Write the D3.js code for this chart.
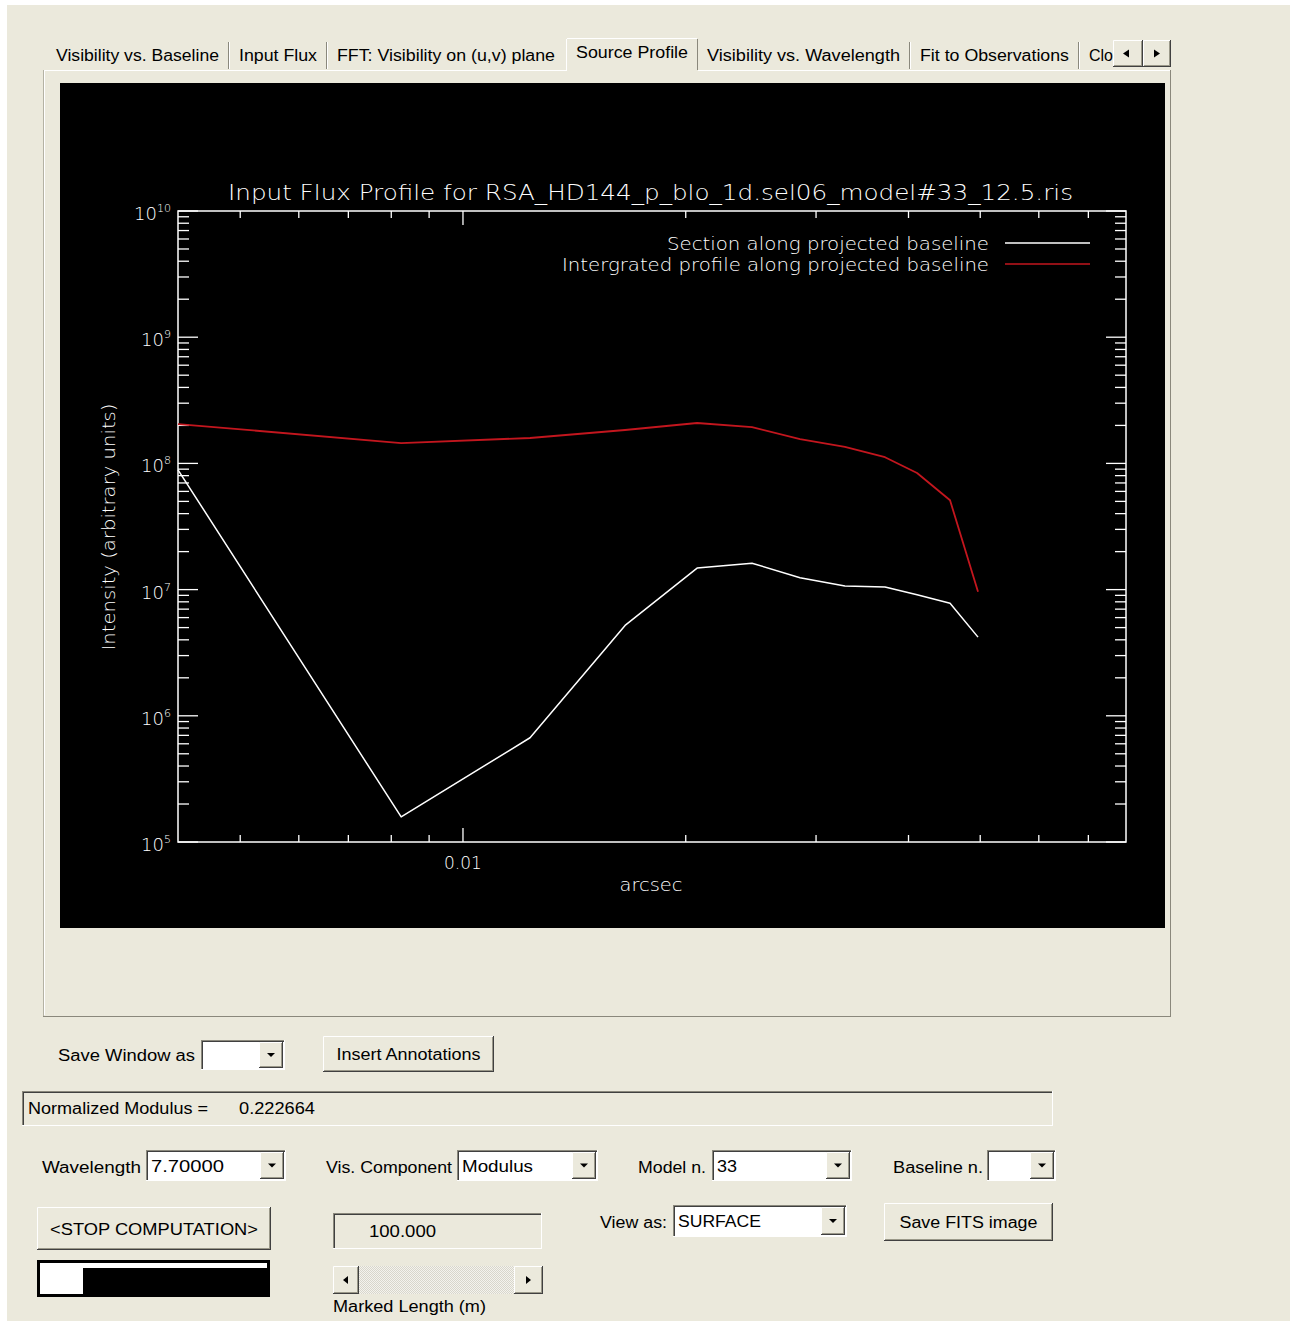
<!DOCTYPE html>
<html>
<head>
<meta charset="utf-8">
<script src="https://cdn.jsdelivr.net/npm/d3@7"></script>
<style>
  body { margin: 0; background: #ffffff; }
  svg { display: block; }
</style>
</head>
<body>
<svg id="app" width="1291" height="1322"></svg>
<script>
// Radial distance along the projected baseline (arcsec)
const arcsec = [0.00412, 0.00825, 0.01232, 0.01656, 0.02072, 0.02458, 0.02854, 0.03282, 0.03718, 0.04108, 0.04552, 0.04966];
// Section of the model image along the projected baseline
const sectionProfile = [8.9e7, 1.58e5, 6.7e5, 5.2e6, 1.48e7, 1.62e7, 1.24e7, 1.07e7, 1.05e7, 9.1e6, 7.8e6, 4.2e6];
// Profile integrated perpendicular to the projected baseline
const integratedProfile = [2.05e8, 1.45e8, 1.59e8, 1.84e8, 2.09e8, 1.94e8, 1.56e8, 1.35e8, 1.12e8, 8.4e7, 5.1e7, 9.6e6];

const xDomain = [0.00412, 0.0787];
const yDomain = [1e5, 1e10];
const yTickExponents = [10, 9, 8, 7, 6, 5];
const xTickLabels = ["0.01"];
const legendLabels = ["Section along projected baseline", "Intergrated profile along projected baseline"];
const chartTitle = "Input Flux Profile for RSA_HD144_p_blo_1d.sel06_model#33_12.5.ris";
const xAxisTitle = "arcsec";
const yAxisTitle = "Intensity (arbitrary units)";

const tabLabels = ["Visibility vs. Baseline", "Input Flux", "FFT: Visibility on (u,v) plane", "Source Profile",
                   "Visibility vs. Wavelength", "Fit to Observations", "Clo"];

const svg = d3.select("#app");
const UI_FONT = "'Liberation Sans', Arial, sans-serif";
const PLOT_FONT = "'DejaVu Sans', sans-serif";
const BG = "#ebe9dc";

// ---------- window background ----------
svg.append("rect").attr("x", 7).attr("y", 5).attr("width", 1283).attr("height", 1316).attr("fill", BG);

// ---------- small widget helpers ----------
function hline(g, x1, x2, y, c) { g.append("line").attr("x1", x1).attr("x2", x2).attr("y1", y).attr("y2", y).attr("stroke", c).attr("stroke-width", 1); }
function vline(g, x, y1, y2, c) { g.append("line").attr("x1", x).attr("x2", x).attr("y1", y1).attr("y2", y2).attr("stroke", c).attr("stroke-width", 1); }

function raised(g, x, y, w, h, fill) {
  g.append("rect").attr("x", x).attr("y", y).attr("width", w).attr("height", h).attr("fill", fill || BG);
  hline(g, x + 0.5, x + w - 0.5, y + 0.5, "#ffffff");
  vline(g, x + 0.5, y + 0.5, y + h - 0.5, "#ffffff");
  hline(g, x, x + w, y + h - 0.5, "#404040");
  vline(g, x + w - 0.5, y, y + h, "#404040");
  hline(g, x + 1, x + w - 1, y + h - 1.5, "#9a9889");
  vline(g, x + w - 1.5, y + 1, y + h - 1, "#9a9889");
}
function sunken(g, x, y, w, h, fill) {
  g.append("rect").attr("x", x).attr("y", y).attr("width", w).attr("height", h).attr("fill", fill || BG);
  hline(g, x, x + w, y + 0.5, "#8a887c");
  vline(g, x + 0.5, y, y + h, "#8a887c");
  hline(g, x + 1, x + w - 1, y + 1.5, "#404040");
  vline(g, x + 1.5, y + 1, y + h - 1, "#404040");
  hline(g, x, x + w, y + h - 0.5, "#ffffff");
  vline(g, x + w - 0.5, y, y + h, "#ffffff");
}
function uiText(g, str, x, y, opts) {
  opts = opts || {};
  const t = g.append("text").attr("x", x).attr("y", y).text(str)
    .attr("font-family", UI_FONT).attr("font-size", opts.size || 16).attr("fill", opts.fill || "#000")
    .attr("text-anchor", opts.anchor || "start");
  if (opts.len) t.attr("textLength", opts.len).attr("lengthAdjust", "spacingAndGlyphs");
  return t;
}
function downArrow(g, cx, cy) {
  g.append("path").attr("d", `M${cx - 4},${cy - 2}L${cx + 4},${cy - 2}L${cx},${cy + 2}Z`).attr("fill", "#000");
}
function dropdown(g, x, y, w, h, value, len) {
  sunken(g, x, y, w, h, "#ffffff");
  raised(g, x + w - 26, y + 2, 24, h - 4, BG);
  downArrow(g, x + w - 14, y + h / 2);
  if (value) uiText(g, value, x + 5, y + h / 2 + 6, { len: len });
}
function button(g, x, y, w, h, label, len) {
  raised(g, x, y, w, h, BG);
  uiText(g, label, x + w / 2, y + h / 2 + 6, { anchor: "middle", len: len });
}

const ui = svg.append("g");

// ---------- tab strip ----------
const tabText = [
  { x: 56, w: 163 }, { x: 239, w: 78 }, { x: 337, w: 218 }, { x: 576, w: 112 },
  { x: 707, w: 193 }, { x: 920, w: 149 }, { x: 1089, w: 24 }
];
const tabSeparators = [228, 326, 909, 1078];

// panel frame
hline(ui, 43, 566, 70.5, "#ffffff");
hline(ui, 698, 1171, 70.5, "#ffffff");
vline(ui, 43.5, 70, 1016, "#b4b2a4");
vline(ui, 44.5, 71, 1015, "#ffffff");
vline(ui, 1170.5, 70, 1017, "#8a887c");
hline(ui, 43, 1171, 1016.5, "#8a887c");

// selected tab
ui.append("rect").attr("x", 566).attr("y", 38).attr("width", 132).attr("height", 34).attr("fill", BG);
hline(ui, 567, 697, 38.5, "#ffffff");
vline(ui, 566.5, 39, 71, "#ffffff");
vline(ui, 697.5, 39, 70, "#8a887c");

tabSeparators.forEach(sx => {
  vline(ui, sx + 0.5, 42, 69, "#8a887c");
  vline(ui, sx + 1.5, 42, 69, "#ffffff");
});

tabLabels.forEach((label, i) => {
  const sel = i === 3;
  uiText(ui, label, tabText[i].x, sel ? 58 : 61, { len: tabText[i].w, size: 16 });
});

// tab scroll arrows
raised(ui, 1113, 40, 30, 27, BG);
raised(ui, 1143, 40, 28, 27, BG);
ui.append("path").attr("d", "M1123,53.5L1129,49.5L1129,57.5Z").attr("fill", "#000");
ui.append("path").attr("d", "M1160,53.5L1154,49.5L1154,57.5Z").attr("fill", "#000");

// ---------- plot window ----------
ui.append("rect").attr("x", 60).attr("y", 83).attr("width", 1105).attr("height", 845).attr("fill", "#000");

const plot = svg.append("g");
const x = d3.scaleLog().domain(xDomain).range([178, 1126]);
const y = d3.scaleLog().domain(yDomain).range([842, 211]);
const isDecade = v => Math.abs(Math.log10(v) - Math.round(Math.log10(v))) < 1e-6;

// frame
plot.append("rect").attr("x", x.range()[0]).attr("y", y.range()[1])
  .attr("width", x.range()[1] - x.range()[0]).attr("height", y.range()[0] - y.range()[1])
  .attr("fill", "none").attr("stroke", "#ffffff").attr("stroke-width", 1.5);

// x ticks (bottom and top)
x.ticks().forEach(v => {
  const len = isDecade(v) ? 14 : 7;
  const px = x(v);
  plot.append("line").attr("x1", px).attr("x2", px).attr("y1", y.range()[0]).attr("y2", y.range()[0] - len)
    .attr("stroke", "#fff").attr("stroke-width", 1.3);
  plot.append("line").attr("x1", px).attr("x2", px).attr("y1", y.range()[1]).attr("y2", y.range()[1] + len)
    .attr("stroke", "#fff").attr("stroke-width", 1.3);
});
// y ticks (left and right)
y.ticks().forEach(v => {
  const len = isDecade(v) ? 20 : 11;
  const py = y(v);
  plot.append("line").attr("x1", x.range()[0]).attr("x2", x.range()[0] + len).attr("y1", py).attr("y2", py)
    .attr("stroke", "#fff").attr("stroke-width", 1.3);
  plot.append("line").attr("x1", x.range()[1]).attr("x2", x.range()[1] - len).attr("y1", py).attr("y2", py)
    .attr("stroke", "#fff").attr("stroke-width", 1.3);
});

function plotText(str, px, py, size, opts) {
  opts = opts || {};
  const t = plot.append("text").attr("x", px).attr("y", py).text(str)
    .attr("font-family", PLOT_FONT).attr("font-weight", 300).attr("font-size", size)
    .attr("fill", "#fff").attr("text-anchor", opts.anchor || "start");
  if (opts.len) t.attr("textLength", opts.len).attr("lengthAdjust", "spacingAndGlyphs");
  if (opts.rotate) t.attr("transform", `rotate(${opts.rotate},${px},${py})`);
  return t;
}

// y tick labels: 10^n
yTickExponents.forEach(e => {
  const py = y(Math.pow(10, e)) + 9;
  const t = plot.append("text").attr("x", 171).attr("y", py).attr("text-anchor", "end")
    .attr("font-family", PLOT_FONT).attr("font-weight", 300).attr("font-size", 18).attr("fill", "#fff");
  t.append("tspan").text("10");
  t.append("tspan").attr("dy", -8).attr("font-size", 11).text(e);
});

// x tick labels
xTickLabels.forEach(s => {
  plotText(s, x(+s), 869, 17, { anchor: "middle" });
});

// titles
plotText(chartTitle, 228, 200, 22, { len: 845 });
plotText(xAxisTitle, 651, 891, 17, { anchor: "middle", len: 63 });
plotText(yAxisTitle, 115, 527, 17, { anchor: "middle", len: 247, rotate: -90 });

// series lines
const line = d3.line().x((d, i) => x(arcsec[i])).y(d => y(d));
plot.append("path").datum(integratedProfile).attr("d", line)
  .attr("fill", "none").attr("stroke", "#c3161e").attr("stroke-width", 1.8).attr("stroke-linejoin", "round");
plot.append("path").datum(sectionProfile).attr("d", line)
  .attr("fill", "none").attr("stroke", "#ffffff").attr("stroke-width", 1.5).attr("stroke-linejoin", "round");

// legend
const legendColors = ["#ffffff", "#c3161e"];
const legendLens = [322, 427];
legendLabels.forEach((s, i) => {
  const ly = 243 + i * 21;
  plotText(s, 989, ly + 7, 17, { anchor: "end", len: legendLens[i] });
  plot.append("line").attr("x1", 1005).attr("x2", 1090).attr("y1", ly).attr("y2", ly)
    .attr("stroke", legendColors[i]).attr("stroke-width", 1.6);
});

// ---------- control area ----------
uiText(ui, "Save Window as", 58, 1061, { len: 137 });
dropdown(ui, 201, 1040, 84, 30, "");
button(ui, 323, 1036, 171, 36, "Insert Annotations", 144);

sunken(ui, 22, 1091, 1031, 35, BG);
uiText(ui, "Normalized  Modulus =", 28, 1114, { len: 180 });
uiText(ui, "0.222664", 239, 1114, { len: 76 });

uiText(ui, "Wavelength", 42, 1173, { len: 99 });
dropdown(ui, 146, 1150, 140, 31, "7.70000", 73);
uiText(ui, "Vis. Component", 326, 1173, { len: 126 });
dropdown(ui, 457, 1150, 141, 31, "Modulus", 71);
uiText(ui, "Model n.", 638, 1173, { len: 68 });
dropdown(ui, 712, 1150, 140, 31, "33", 20);
uiText(ui, "Baseline n.", 893, 1173, { len: 90 });
dropdown(ui, 987, 1150, 69, 31, "");

button(ui, 37, 1207, 234, 43, "<STOP COMPUTATION>", 208);
uiText(ui, "View as:", 600, 1228, { len: 67 });
dropdown(ui, 673, 1205, 174, 32, "SURFACE", 83);
button(ui, 884, 1203, 169, 38, "Save FITS image", 138);

sunken(ui, 333, 1213, 209, 36, BG);
uiText(ui, "100.000", 369, 1237, { len: 67 });

// progress indicator
ui.append("rect").attr("x", 37).attr("y", 1260).attr("width", 233).attr("height", 37).attr("fill", "#000");
ui.append("rect").attr("x", 40).attr("y", 1263).attr("width", 227).attr("height", 5).attr("fill", "#fff");
ui.append("rect").attr("x", 40).attr("y", 1268).attr("width", 43).attr("height", 26).attr("fill", "#fff");

// scrollbar
const pat = svg.append("defs").append("pattern").attr("id", "track").attr("width", 2).attr("height", 2)
  .attr("patternUnits", "userSpaceOnUse");
pat.append("rect").attr("width", 2).attr("height", 2).attr("fill", "#f4f3ee");
pat.append("rect").attr("width", 1).attr("height", 1).attr("fill", "#d8d6cb");
pat.append("rect").attr("x", 1).attr("y", 1).attr("width", 1).attr("height", 1).attr("fill", "#d8d6cb");
ui.append("rect").attr("x", 333).attr("y", 1266).attr("width", 210).attr("height", 28).attr("fill", "url(#track)");
raised(ui, 333, 1266, 26, 28, BG);
raised(ui, 514, 1266, 29, 28, BG);
ui.append("path").attr("d", "M343,1280L348,1276L348,1284Z").attr("fill", "#000");
ui.append("path").attr("d", "M531,1280L526,1276L526,1284Z").attr("fill", "#000");
uiText(ui, "Marked Length (m)", 333, 1312, { len: 153 });
</script>
</body>
</html>
